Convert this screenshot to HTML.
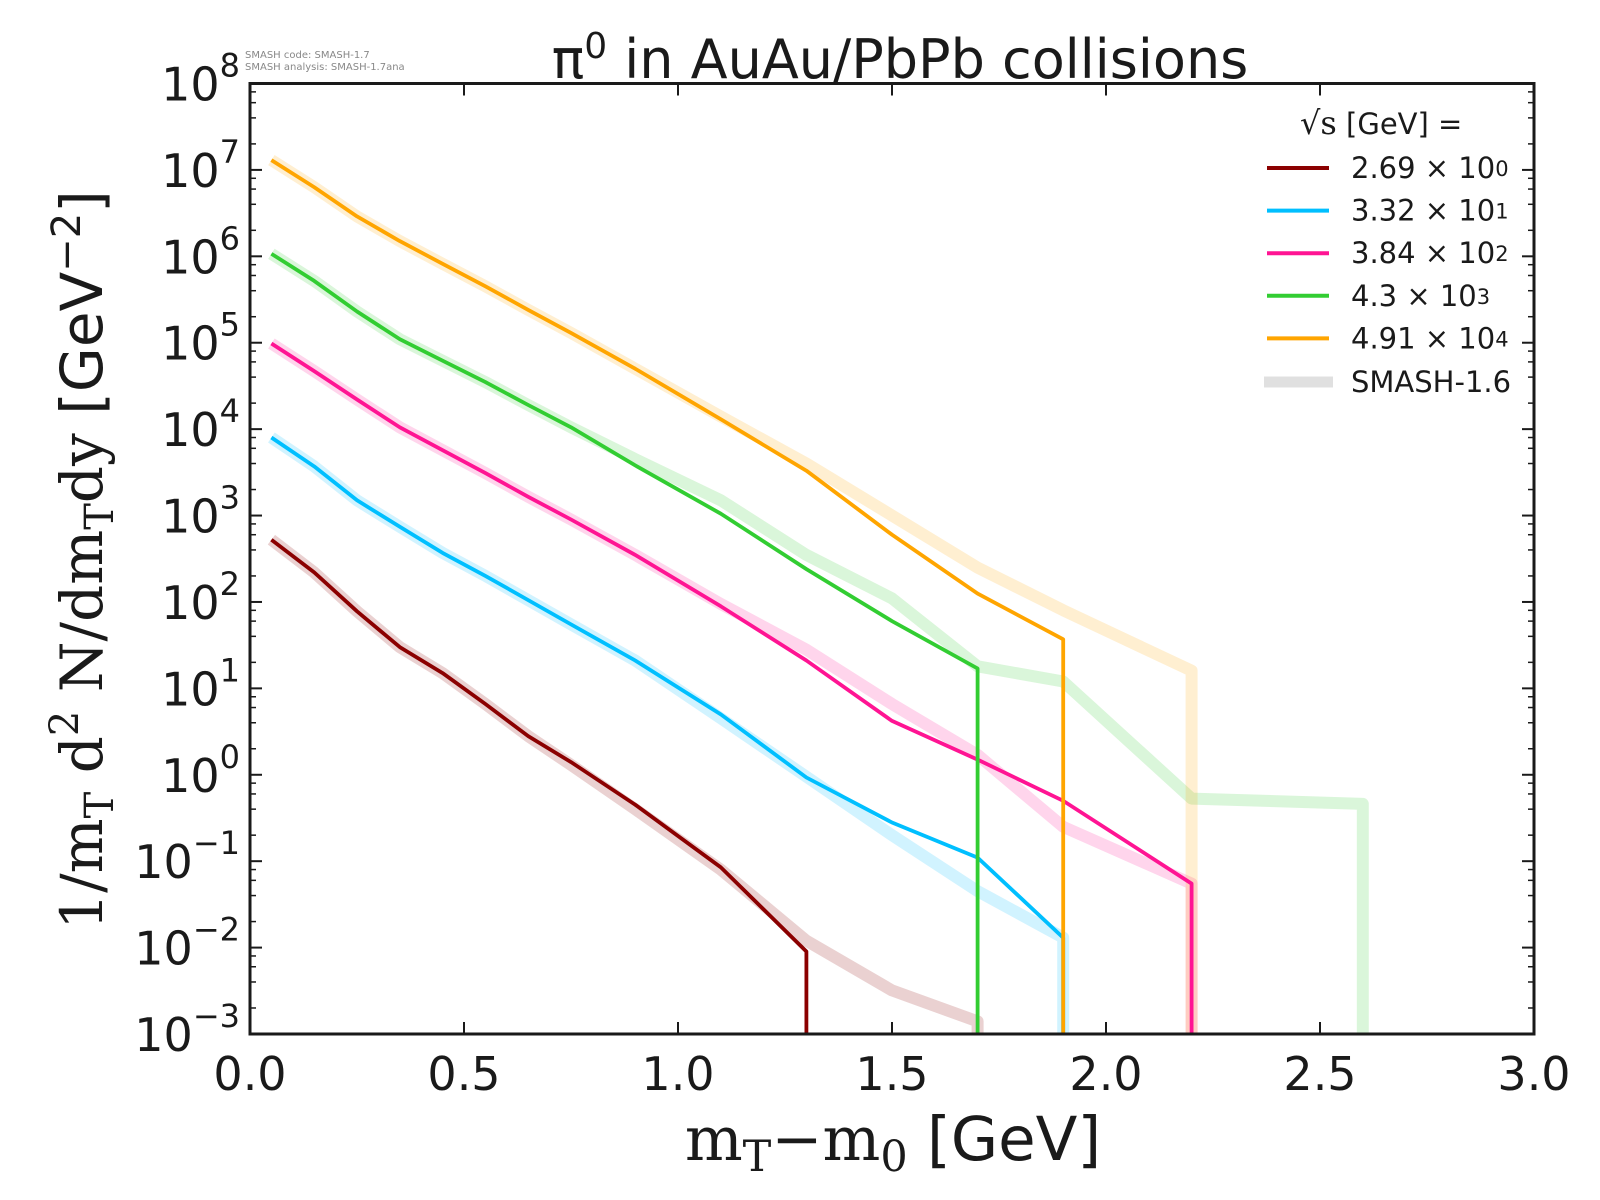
<!DOCTYPE html>
<html><head><meta charset="utf-8"><style>
html,body{margin:0;padding:0;background:#fff;}
svg{display:block;}
text{font-family:"DejaVu Sans","Liberation Sans",sans-serif;fill:#1a1a1a;}
.serif{font-family:"DejaVu Serif","Liberation Serif",serif;}
</style></head><body>
<svg id="chart" width="1600" height="1200" viewBox="0 0 1600 1200" xmlns="http://www.w3.org/2000/svg">
<g id="smash"></g>
<g id="main"></g>
<g id="axes"></g>
<text x="245" y="58" font-size="10" style="fill:#888">SMASH code:      SMASH-1.7</text>
<text x="245" y="70" font-size="10" style="fill:#888">SMASH analysis: SMASH-1.7ana</text>
<text x="900" y="78" font-size="54" text-anchor="middle">π<tspan dy="-20" font-size="36">0</tspan><tspan dy="20"> in AuAu/PbPb collisions</tspan></text>
<text x="893" y="1160" font-size="61" text-anchor="middle"><tspan class="serif">m</tspan><tspan class="serif" font-size="43" dy="11">T</tspan><tspan class="serif" dy="-11">−m</tspan><tspan class="serif" font-size="43" dy="11">0</tspan><tspan dy="-11"> [GeV]</tspan></text>
<text transform="translate(102,560) rotate(-90)" font-size="58" text-anchor="middle"><tspan class="serif">1/m</tspan><tspan class="serif" font-size="40" dy="11">T</tspan><tspan class="serif" dy="-11"> d</tspan><tspan class="serif" font-size="40" dy="-24">2</tspan><tspan class="serif" dy="24"> N/dm</tspan><tspan class="serif" font-size="40" dy="11">T</tspan><tspan class="serif" dy="-11">dy </tspan><tspan>[GeV</tspan><tspan font-size="40" dy="-22">−2</tspan><tspan dy="22">]</tspan></text>
<g id="legend"></g>
</svg>
<script>
const xs = [0.05,0.15,0.25,0.35,0.45,0.55,0.65,0.75,0.9,1.1,1.3,1.5,1.7,1.9,2.2,2.6];
const seriesNames = ["2.69","3.32","3.84","4.3","4.91"];
const seriesExp = ["0","1","2","3","4"];
const colors = ["#8b0000","#00bfff","#ff1493","#32cd32","#ffa500"];
const v269 = [525,220,78,30,15,6.6,2.8,1.4,0.45,0.085,0.009];
const v332 = [8000,3700,1500,740,370,200,105,55,21,5,0.93,0.28,0.11,0.013];
const v384 = [98000,47000,22000,10500,5700,3100,1650,900,350,89,21,4.2,1.5,0.5,0.055];
const v43 = [1.07e6,5.2e5,2.3e5,1.1e5,6.2e4,3.5e4,1.9e4,1.05e4,3800,1050,240,60,17];
const v491 = [1.3e7,6.3e6,2.9e6,1.5e6,8.2e5,4.5e5,2.4e5,1.3e5,5e4,1.3e4,3300,600,125,37];
const s269 = [525,220,78,30,15,6.6,2.8,1.3,0.4,0.08,0.012,0.0032,0.0014];
const s332 = [8000,3700,1500,740,370,200,105,55,21,4.5,0.95,0.2,0.045,0.013];
const s384 = [98000,47000,22000,10500,5700,3100,1650,900,350,95,28,6.6,1.7,0.25,0.055];
const s43 = [1.07e6,5.2e5,2.3e5,1.1e5,6.2e4,3.5e4,1.9e4,1.05e4,4500,1500,350,110,18,12,0.53,0.46];
const s491 = [1.3e7,6.3e6,2.9e6,1.5e6,8.2e5,4.5e5,2.4e5,1.3e5,5e4,1.4e4,4000,1000,250,80,16];
const mainSeries = [v269,v332,v384,v43,v491];
const smashSeries = [s269,s332,s384,s43,s491];
const xTicks = ["0.0","0.5","1.0","1.5","2.0","2.5","3.0"];
const yTickExps = [-3,-2,-1,0,1,2,3,4,5,6,7,8];

const L=250,R=1534,T=83.5,B=1034,ymin=-3,ymax=8;
const X=v=>L+(v/3)*(R-L);
const Y=v=>B-(Math.log10(v)-ymin)/(ymax-ymin)*(B-T);
const NS="http://www.w3.org/2000/svg";
function mk(tag,parent,attrs){const e=document.createElementNS(NS,tag);for(const k in attrs)e.setAttribute(k,attrs[k]);parent.appendChild(e);return e;}
function pathFor(vals){let d="";vals.forEach((v,i)=>{d+=(i?"L":"M")+X(xs[i]).toFixed(1)+","+Y(v).toFixed(1);});
  const last=xs[vals.length-1];d+="L"+X(last).toFixed(1)+","+B;return d;}
const gS=document.getElementById("smash"),gM=document.getElementById("main");
const clip=mk("clipPath",document.getElementById("chart"),{id:"pc"});mk("rect",clip,{x:L,y:T,width:R-L,height:B-T});
smashSeries.forEach((s,i)=>{const p=mk("path",gS,{d:pathFor(s),fill:"none",stroke:colors[i],"stroke-opacity":0.18,"stroke-width":12,"stroke-linejoin":"round","clip-path":"url(#pc)"});

});
mainSeries.forEach((s,i)=>{const p=mk("path",gM,{d:pathFor(s),fill:"none",stroke:colors[i],"stroke-width":3.8,"stroke-linejoin":"round","clip-path":"url(#pc)"});

});
const gA=document.getElementById("axes");
const fr=mk("rect",gA,{x:L,y:T,width:R-L,height:B-T,fill:"none",stroke:"#1a1a1a","stroke-width":3});


xTicks.forEach(t=>{const x=X(+t);
 mk("line",gA,{x1:x,x2:x,y1:B,y2:B-12,stroke:"#1a1a1a","stroke-width":2});
 mk("line",gA,{x1:x,x2:x,y1:T,y2:T+12,stroke:"#1a1a1a","stroke-width":2});
 const tx=mk("text",gA,{x:x,y:B+56,"font-size":46,"text-anchor":"middle"});tx.textContent=t;
 
 });
yTickExps.forEach(e=>{const y=Y(Math.pow(10,e));
 mk("line",gA,{x1:L,x2:L+12,y1:y,y2:y,stroke:"#1a1a1a","stroke-width":2});
 mk("line",gA,{x1:R,x2:R-12,y1:y,y2:y,stroke:"#1a1a1a","stroke-width":2});
 if(e<8)[2,4,6,8].forEach(m=>{const ym=Y(m*Math.pow(10,e));
  mk("line",gA,{x1:L,x2:L+6,y1:ym,y2:ym,stroke:"#1a1a1a","stroke-width":1.5});
  mk("line",gA,{x1:R,x2:R-6,y1:ym,y2:ym,stroke:"#1a1a1a","stroke-width":1.5});});
 const tx=mk("text",gA,{x:L-10,y:y+17,"font-size":46,"text-anchor":"end"});
 tx.innerHTML='10<tspan dy="-24" font-size="32">'+(e<0?'−'+(-e):e)+'</tspan>';
 
 });
const gL=document.getElementById("legend");
const hd=mk("text",gL,{x:1300,y:134,"font-size":29});
hd.innerHTML='<tspan class="serif" font-size="32">√s</tspan>  [GeV] =';


seriesNames.forEach((n,i)=>{const y=168+i*42.6;
 const ln=mk("line",gL,{x1:1267,x2:1329,y1:y,y2:y,stroke:colors[i],"stroke-width":4});
 
 
 const t=mk("text",gL,{x:1351,y:y+10,"font-size":29});
 t.innerHTML=n+' × 10<tspan font-size="21" dy="-2">'+seriesExp[i]+'</tspan>';
 
 });
const sl=mk("line",gL,{x1:1264,x2:1333,y1:382,y2:382,stroke:"#e0e0e0","stroke-width":11});


const st=mk("text",gL,{x:1351,y:392,"font-size":29});st.textContent="SMASH-1.6";


</script>
</body></html>
